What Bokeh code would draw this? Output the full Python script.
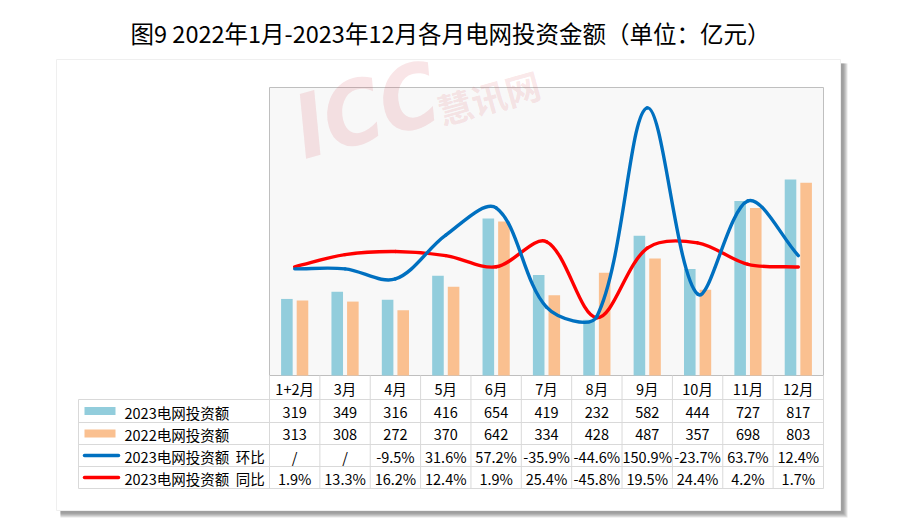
import math
from bokeh.plotting import figure
from bokeh.models import Range1d
from bokeh.core.properties import value
from bokeh.embed import file_html
from bokeh.resources import INLINE

# ---------------- data ----------------
title_text = "图9 2022年1月-2023年12月各月电网投资金额（单位：亿元）"
months = ["1+2月", "3月", "4月", "5月", "6月", "7月", "8月", "9月", "10月", "11月", "12月"]
inv_2023 = [319, 349, 316, 416, 654, 419, 232, 582, 444, 727, 817]
inv_2022 = [313, 308, 272, 370, 642, 334, 428, 487, 357, 698, 803]
mom_2023 = [None, None, -9.5, 31.6, 57.2, -35.9, -44.6, 150.9, -23.7, 63.7, 12.4]
yoy_2023 = [1.9, 13.3, 16.2, 12.4, 1.9, 25.4, -45.8, 19.5, 24.4, 4.2, 1.7]
series_names = ["2023电网投资额", "2022电网投资额",
                "2023电网投资额\u00a0\u00a0环比", "2023电网投资额\u00a0\u00a0同比"]
amt_axis = (0, 1200)
pct_axis = (-100, 170)

# ---------------- layout ----------------
W, H = 900, 527
PL, PR, PT, PB = 269, 823, 87, 375
TL = 78
rows_y = [375, 399, 422, 444, 466, 488]
n = len(months)
cw = (PR - PL) / n
FONT = value("Noto Sans CJK SC")
C_BLUE_BAR = "#92CDDC"
C_ORANGE_BAR = "#FAC090"
C_BLUE_LINE = "#0070C0"
C_RED_LINE = "#FF0000"
GRID = "#D9D9D9"

p = figure(width=W, height=H, x_range=Range1d(0, W), y_range=Range1d(H, 0),
           output_backend="svg", toolbar_location=None,
           x_axis_type=None, y_axis_type=None, min_border=0)
p.outline_line_color = None
p.background_fill_color = "white"
p.border_fill_color = "white"


def vrange(lo, hi):
    k = (hi - lo) / (PB - PT)
    return Range1d(lo - (H - PB) * k, hi + PT * k)


p.extra_x_ranges = {"cat": Range1d(-PL / cw, n + (W - PR) / cw)}
p.extra_y_ranges = {"amt": vrange(*amt_axis), "pct": vrange(*pct_axis)}

# ---------------- card with shadow ----------------
for k in range(5):
    p.quad(left=60, right=847 - k, top=63, bottom=517 - k,
           fill_color="#505050", fill_alpha=0.14, line_color=None)
p.quad(left=56, right=840, top=59, bottom=510, fill_color="white",
       line_color="#EFEFEF", line_width=1)

# ---------------- plot area ----------------
p.quad(left=PL, right=PR, top=PT, bottom=PB, fill_color="#F8F8F8",
       line_color="#BFBFBF", line_width=1)

# watermark (behind the data marks)
WM = "#D9505E"
p.text(x=[366], y=[110], text=["ICC"],
       text_font=value("DejaVu Sans Condensed, Roboto Condensed, Roboto, sans-serif"),
       text_font_style="bold italic", text_font_size="88px", text_color=WM,
       text_alpha=0.15, angle=0.27, text_align="center", text_baseline="middle")
p.text(x=[488], y=[96], text=["慧讯网"], text_font=FONT,
       text_font_style="bold", text_font_size="35px", text_color=WM,
       text_alpha=0.15, angle=0.27, text_align="center", text_baseline="middle")

xc = [i + 0.5 for i in range(n)]
p.vbar(x=[x - 0.155 for x in xc], top=inv_2023, bottom=0, width=0.23,
       fill_color=C_BLUE_BAR, line_color=None,
       x_range_name="cat", y_range_name="amt")
p.vbar(x=[x + 0.155 for x in xc], top=inv_2022, bottom=0, width=0.23,
       fill_color=C_ORANGE_BAR, line_color=None,
       x_range_name="cat", y_range_name="amt")

# smoothed lines (Excel-like bezier smoothing, computed in pixel space)
sx = cw
sy = (PB - PT) / (pct_axis[1] - pct_axis[0])


def smooth(xs, ys):
    pts = list(zip(xs, ys))
    m = len(pts)
    out = {k: [] for k in ["x0", "y0", "x1", "y1", "cx0", "cy0", "cx1", "cy1"]}

    def d(a, b):
        return math.hypot((a[0] - b[0]) * sx, (a[1] - b[1]) * sy)

    for i in range(m - 1):
        p0 = pts[max(i - 1, 0)]
        p1 = pts[i]
        p2 = pts[i + 1]
        p3 = pts[min(i + 2, m - 1)]
        d01, d12, d23 = d(p0, p1), d(p1, p2), d(p2, p3)
        f1 = d12 / (d01 + d12) / 3 if d01 + d12 > 0 else 0
        f2 = d12 / (d12 + d23) / 3 if d12 + d23 > 0 else 0
        out["x0"].append(p1[0]); out["y0"].append(p1[1])
        out["x1"].append(p2[0]); out["y1"].append(p2[1])
        out["cx0"].append(p1[0] + (p2[0] - p0[0]) * f1)
        out["cy0"].append(p1[1] + (p2[1] - p0[1]) * f1)
        out["cx1"].append(p2[0] - (p3[0] - p1[0]) * f2)
        out["cy1"].append(p2[1] - (p3[1] - p1[1]) * f2)
    return out


mom_plot = [0 if v is None else v for v in mom_2023]
for ys, col in [(yoy_2023, C_RED_LINE), (mom_plot, C_BLUE_LINE)]:
    s = smooth(xc, ys)
    p.bezier(x0=s["x0"], y0=s["y0"], x1=s["x1"], y1=s["y1"],
             cx0=s["cx0"], cy0=s["cy0"], cx1=s["cx1"], cy1=s["cy1"],
             line_color=col, line_width=3.4, line_cap="round",
             x_range_name="cat", y_range_name="pct")

# ---------------- data table ----------------
for y in rows_y[1:]:
    p.segment(x0=[TL], y0=[y], x1=[PR], y1=[y], line_color=GRID, line_width=1)
p.segment(x0=[TL], y0=[rows_y[1]], x1=[TL], y1=[rows_y[-1]], line_color=GRID, line_width=1)
p.segment(x0=list(range(n + 1)), y0=[rows_y[0]] * (n + 1),
          x1=list(range(n + 1)), y1=[rows_y[-1]] * (n + 1),
          line_color=GRID, line_width=1, x_range_name="cat")

mids = [(rows_y[i] + rows_y[i + 1]) / 2 for i in range(len(rows_y) - 1)]
row_texts = [
    months,
    [str(v) for v in inv_2023],
    [str(v) for v in inv_2022],
    ["/" if v is None else f"{v:.1f}%" for v in mom_2023],
    [f"{v:.1f}%" for v in yoy_2023],
]
for r, texts in enumerate(row_texts):
    p.text(x=xc, y=[mids[r] + 1] * n, text=texts, text_font=FONT,
           text_font_size="14.5px", text_color="#000000",
           text_align="center", text_baseline="middle", x_range_name="cat")

# legend keys + row names
p.quad(left=[84], right=[115], top=[mids[1] - 4], bottom=[mids[1] + 4],
       fill_color=C_BLUE_BAR, line_color=None)
p.quad(left=[84], right=[115], top=[mids[2] - 4], bottom=[mids[2] + 4],
       fill_color=C_ORANGE_BAR, line_color=None)
p.segment(x0=[84], y0=[mids[3]], x1=[118], y1=[mids[3]], line_color=C_BLUE_LINE,
          line_width=3.5, line_cap="round")
p.segment(x0=[84], y0=[mids[4]], x1=[118], y1=[mids[4]], line_color=C_RED_LINE,
          line_width=3.5, line_cap="round")
p.text(x=[124] * 4, y=[m + 1 for m in mids[1:]], text=series_names, text_font=FONT,
       text_font_size="14.5px", text_color="#000000",
       text_align="left", text_baseline="middle")

# ---------------- title ----------------
p.text(x=[450], y=[32], text=[title_text], text_font=FONT, text_font_size="23.5px",
       text_color="#000000", text_align="center", text_baseline="middle")

open("out.html", "w").write(file_html(p, INLINE))
